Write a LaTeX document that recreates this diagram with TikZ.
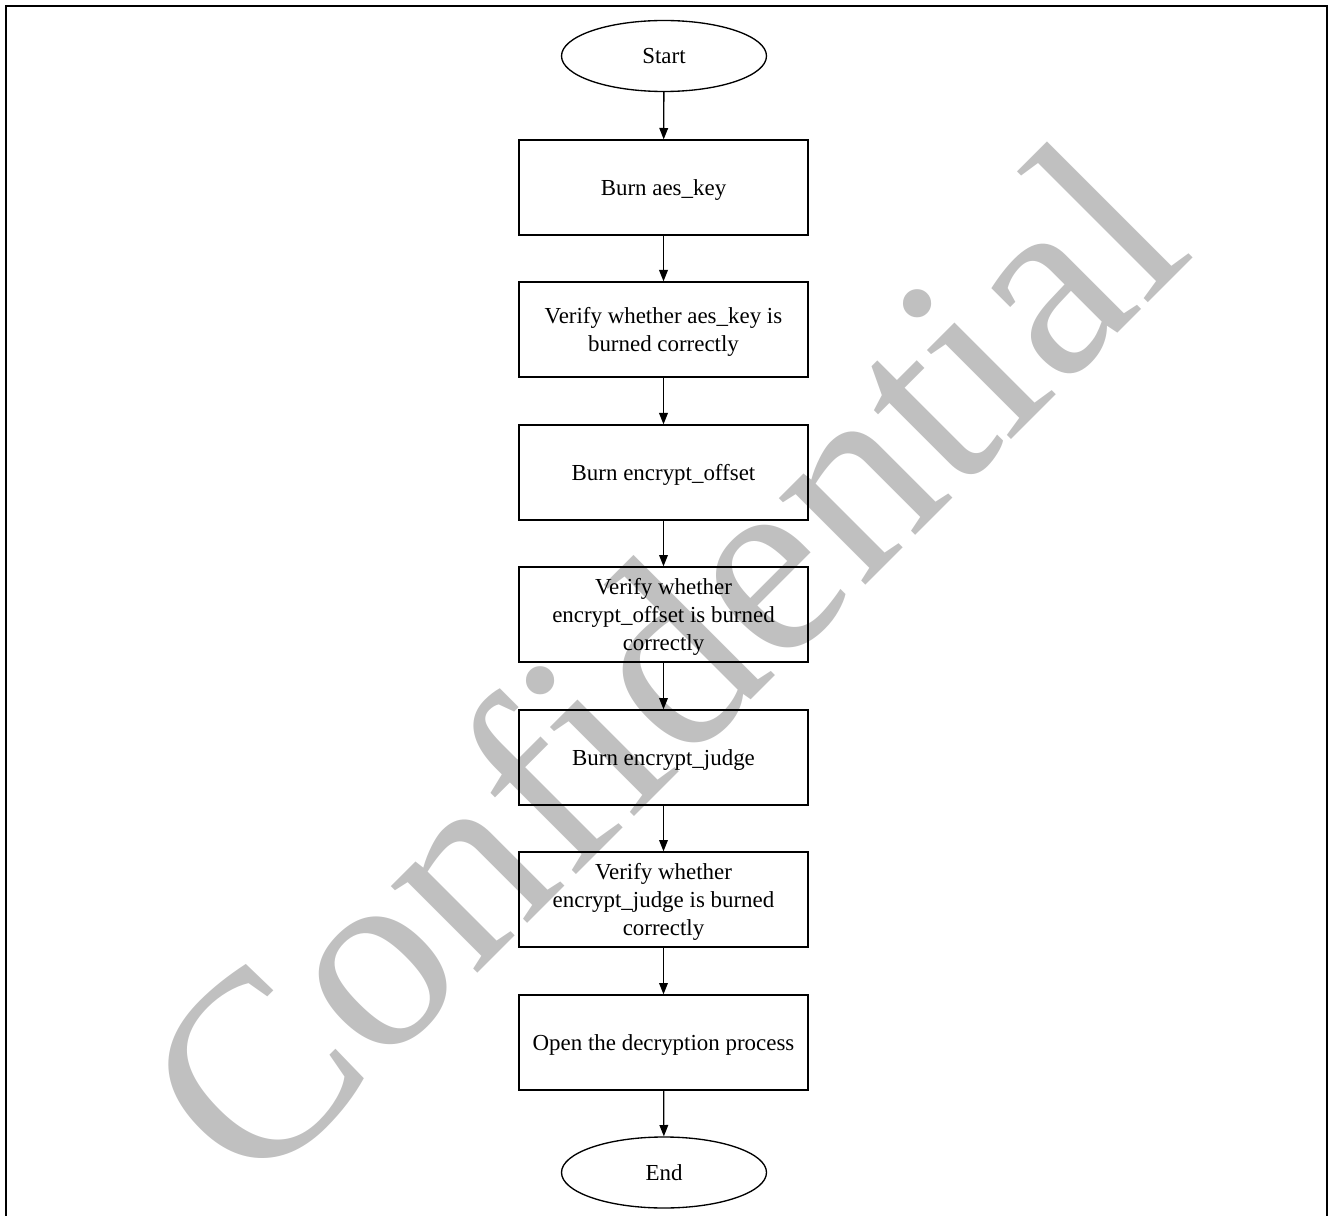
\documentclass[tikz,border=0pt]{standalone}
\usepackage{fontspec}
\setmainfont{Liberation Serif}
\newfontfamily\markfont{Liberation Serif}[Ligatures=CommonOff]
\usetikzlibrary{arrows.meta,shapes.geometric}
\definecolor{markgray}{RGB}{192,192,192}
\begin{document}
\begin{tikzpicture}[x=0.75pt,y=-0.75pt,
  label font/.style={font=\fontsize{17.2pt}{21pt}\selectfont},
  stepbox/.style={draw, line width=1pt, rectangle, label font, align=center,
    minimum width=216.75pt, minimum height=71.25pt, inner sep=2pt, text depth=0pt},
  terminal/.style={draw, line width=1pt, ellipse, label font,
    minimum width=153.75pt, minimum height=53.25pt, inner sep=0pt},
  flow/.style={draw, line width=1pt, -{Triangle[length=8.5pt,width=6.5pt]}}]

% page area
\useasboundingbox (0,0) rectangle (1329,1216);

% watermark behind everything
\node[font=\markfont\fontsize{200pt}{200pt}\selectfont, text=markgray,
      rotate=45, anchor=base, inner sep=0pt] (mark) at (725,726) {Confidential};

% page frame, open at the bottom
\coordinate (fbl) at (6,1216);
\coordinate (ftl) at (6,6);
\coordinate (ftr) at (1327,6);
\coordinate (fbr) at (1327,1216);
\draw[line width=1.5pt] (fbl) -- (ftl) -- (ftr) -- (fbr);

% flow steps
\node[terminal] (start) at (664,56) {Start};
\node[stepbox] (b1) at (663.5,187.5) {Burn aes\_key};
\node[stepbox] (b2) at (663.5,329.5) {Verify whether aes\_key is\\burned correctly};
\node[stepbox] (b3) at (663.5,472.5) {Burn encrypt\_offset};
\node[stepbox] (b4) at (663.5,614.5) {Verify whether\\encrypt\_offset is burned\\correctly};
\node[stepbox] (b5) at (663.5,757.5) {Burn encrypt\_judge};
\node[stepbox] (b6) at (663.5,899.5) {Verify whether\\encrypt\_judge is burned\\correctly};
\node[stepbox] (b7) at (663.5,1042.5) {Open the decryption process};
\node[terminal] (end) at (664,1172.5) {End};

% connectors
\foreach \a/\b in {start/b1, b1/b2, b2/b3, b3/b4, b4/b5, b5/b6, b6/b7, b7/end}
  \draw[flow] (\a) -- (\b);
\end{tikzpicture}
\end{document}
